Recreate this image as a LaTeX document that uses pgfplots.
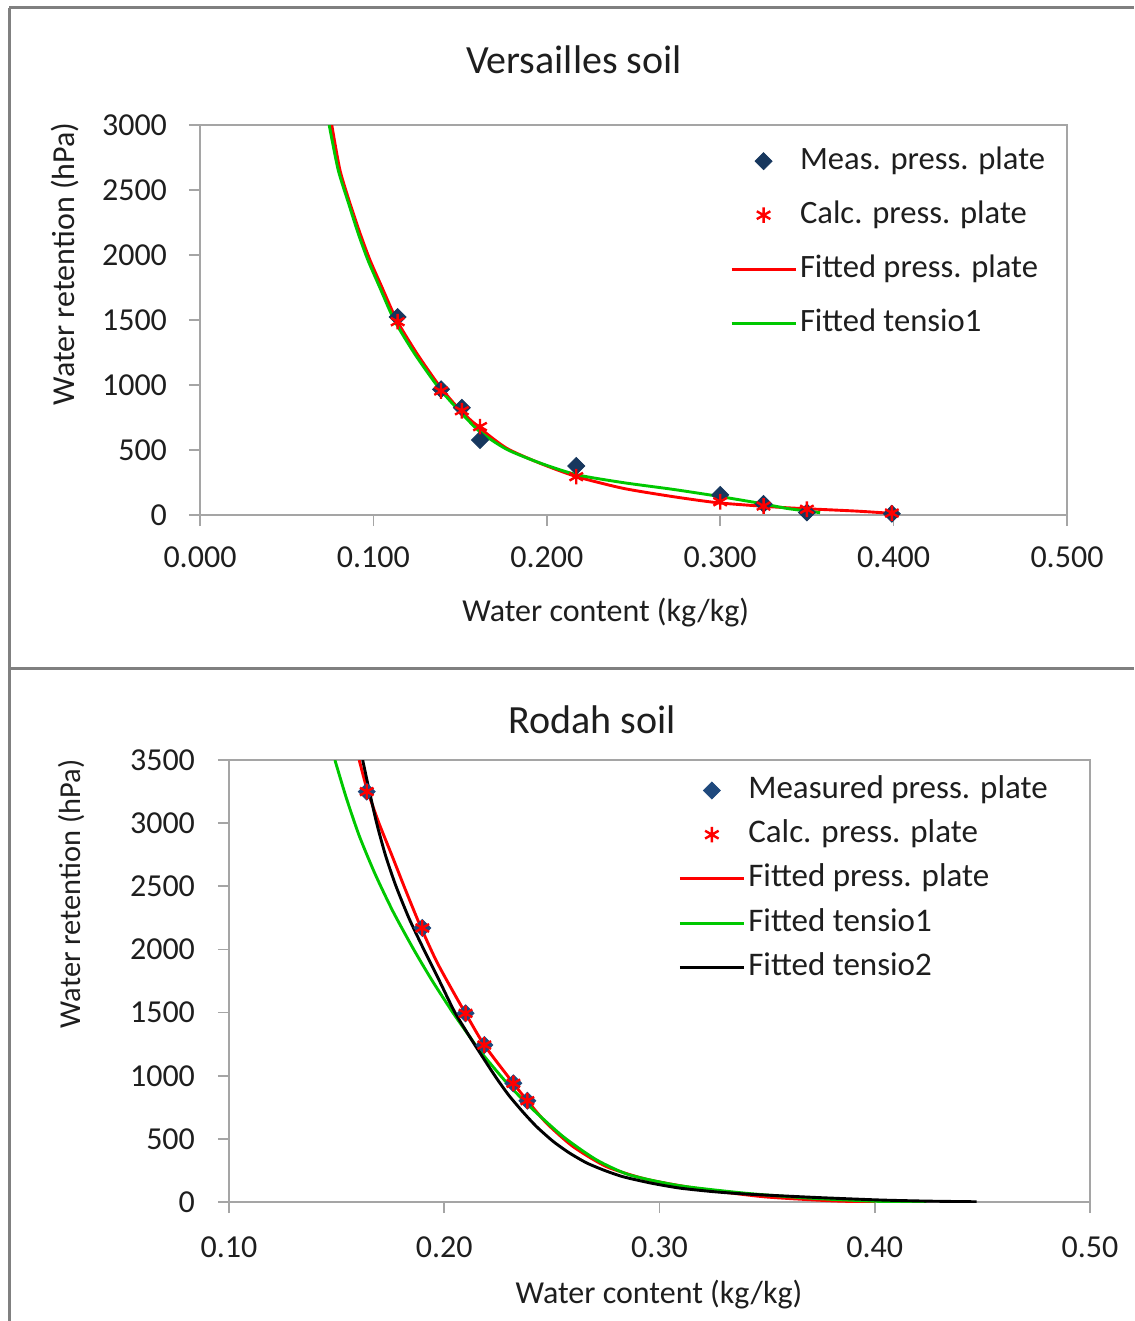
\documentclass[border=0pt]{standalone}
\usepackage{fontspec}
\setmainfont{Carlito}
\usepackage{pgfplots}
\pgfplotsset{compat=1.18}
\definecolor{navyA}{RGB}{23,55,94}
\definecolor{navyB}{RGB}{31,73,125}
\definecolor{fitgreen}{RGB}{0,200,0}
\definecolor{framegray}{RGB}{128,128,128}
\definecolor{axgray}{RGB}{165,165,165}
\definecolor{txt}{RGB}{30,30,30}
\pgfplotsset{
  legline/.style={legend image code/.code={\draw[##1] (0pt,0pt) -- (32pt,0pt);}},
  legmark/.style={legend image code/.code={\path[draw=none,fill=none] (0pt,-0.1pt) rectangle (32pt,0.1pt); \draw[##1] plot coordinates {(16pt,0pt)};}},
  fit/.style={line width=1.45pt, smooth, tension=0.4},
  soil/.style={
    scale only axis, anchor=south west,
    axis line style={axgray, line width=0.8pt},
    tick align=outside, major tick length=5.5pt,
    tick style={axgray, line width=0.8pt},
    tick pos=left,
    /pgf/number format/assume math mode=true,
    /pgf/number format/1000 sep={},
    tick label style={font=\fontsize{16}{19}\selectfont, text=txt},
    label style={font=\fontsize{16}{19}\selectfont, text=txt},
    legend style={draw=none, fill=none, inner sep=0pt,
      text=txt,
      nodes={text height=12pt, text depth=4pt, inner sep=1.5pt}},
    legend cell align=left, legline,
  }
}
\begin{document}
\begin{tikzpicture}
\useasboundingbox (0,0) rectangle (567pt,-660.5pt);
\draw[framegray, line width=1.5pt] (4.5pt,-4pt) -- (567pt,-4pt);
\draw[framegray, line width=1.5pt] (4.5pt,-4pt) -- (4.5pt,-660.5pt);
\draw[framegray, line width=1.5pt] (4.5pt,-334pt) -- (567pt,-334pt);
\node[font=\fontsize{20}{24}\selectfont, text=txt] at (287pt,-30pt) {Versailles soil};
\node[font=\fontsize{20}{24}\selectfont, text=txt] at (296pt,-360pt) {Rodah soil};

\begin{axis}[soil, at={(100pt,-257.5pt)}, width=433.5pt, height=195pt,
  xmin=0, xmax=0.5, ymin=0, ymax=3000,
  xtick={0,0.1,0.2,0.3,0.4,0.5}, ytick={0,500,1000,1500,2000,2500,3000},
  xticklabel style={/pgf/number format/.cd, fixed, fixed zerofill, precision=3},
  xticklabel shift=7pt, yticklabel shift=7.5pt,
  xlabel={Water content (kg/kg)},
  xlabel style={at={(axis description cs:0.468,-0.249)}, anchor=center},
  ylabel={Water retention (hPa)},
  ylabel style={at={(axis description cs:-0.156,0.644)}, anchor=center},
  legend style={at={(axis description cs:0.611,0.957)}, anchor=north west, row sep=8pt,
    font=\fontsize{16.3}{19}\selectfont},
]
\addplot[only marks, mark=square*, mark size=3pt, mark options={rotate=45, draw=navyA, fill=navyA}, legmark]
coordinates {(0.114,1523) (0.139,967) (0.151,825) (0.1615,577) (0.217,377) (0.300,154) (0.325,85) (0.350,20) (0.399,10)};
\addlegendentry{Meas. press. plate}
\addplot[only marks, mark=asterisk, mark size=3.9pt, red, mark options={line width=1.2pt}, legmark]
coordinates {(0.114,1487) (0.139,954) (0.151,802) (0.1615,680) (0.217,295) (0.300,102) (0.325,69) (0.350,44) (0.399,15)};
\addlegendentry{Calc. press. plate}
\addplot[red, fit]
coordinates {(0.0760,3000) (0.0807,2654) (0.0865,2397) (0.0923,2167) (0.0980,1962) (0.1048,1756) (0.1134,1500) (0.1250,1244) (0.1384,987) (0.1499,808) (0.1615,667) (0.1769,513) (0.1961,398) (0.2172,295) (0.2441,205) (0.2729,141) (0.2980,95) (0.3230,69) (0.3383,56) (0.3499,48) (0.3787,30) (0.3998,12)};
\addlegendentry{Fitted press. plate}
\addplot[fitgreen, fit]
coordinates {(0.0745,3000) (0.0797,2654) (0.0857,2397) (0.0912,2167) (0.0968,1962) (0.1035,1756) (0.1120,1500) (0.1236,1244) (0.1372,987) (0.1490,808) (0.1615,640) (0.1769,505) (0.1961,400) (0.2172,310) (0.2441,249) (0.2729,197) (0.2980,146) (0.3230,90) (0.3383,51) (0.3499,31) (0.3576,18)};
\addlegendentry{Fitted tensio1}
\end{axis}

\begin{axis}[soil, at={(114.5pt,-601pt)}, width=430.5pt, height=221pt,
  xmin=0.1, xmax=0.5, ymin=0, ymax=3500,
  xtick={0.1,0.2,0.3,0.4,0.5}, ytick={0,500,1000,1500,2000,2500,3000,3500},
  xticklabel style={/pgf/number format/.cd, fixed, fixed zerofill, precision=2},
  xticklabel shift=8.5pt, yticklabel shift=8pt,
  xlabel={Water content (kg/kg)},
  xlabel style={at={(axis description cs:0.4994,-0.21)}, anchor=center},
  ylabel={Water retention (hPa)},
  ylabel style={at={(axis description cs:-0.183,0.697)}, anchor=center, font=\fontsize{15.2}{18}\selectfont},
  legend style={at={(axis description cs:0.5215,0.975)}, anchor=north west, row sep=3.1pt,
    font=\fontsize{16.5}{19}\selectfont},
]
\addplot[only marks, mark=square*, mark size=3pt, mark options={rotate=45, draw=navyB, fill=navyB}, legmark]
coordinates {(0.1640,3250) (0.1898,2170) (0.2099,1494) (0.2186,1243) (0.2321,940) (0.2386,802)};
\addlegendentry{Measured press. plate}
\addplot[only marks, mark=asterisk, mark size=3.9pt, red, mark options={line width=1.2pt}, legmark]
coordinates {(0.1640,3250) (0.1898,2170) (0.2099,1494) (0.2186,1243) (0.2321,940) (0.2386,802)};
\addlegendentry{Calc. press. plate}
\addplot[red, fit]
coordinates {(0.1605,3500) (0.1640,3276) (0.1694,3012) (0.1756,2748) (0.1817,2484) (0.1887,2193) (0.1965,1903) (0.2050,1639) (0.2099,1494) (0.2186,1243) (0.2321,940) (0.2390,794) (0.2476,623) (0.2599,438) (0.2754,280) (0.2940,180) (0.3172,108) (0.3482,42) (0.3791,10) (0.400,0)};
\addlegendentry{Fitted press. plate}
\addplot[fitgreen, fit]
coordinates {(0.1492,3500) (0.1545,3200) (0.1605,2900) (0.1678,2600) (0.1762,2300) (0.1858,2000) (0.1945,1750) (0.2040,1500) (0.2122,1300) (0.2166,1195) (0.2290,945) (0.2398,755) (0.2553,517) (0.2708,333) (0.2862,214) (0.3095,129) (0.3404,69) (0.3714,29) (0.4024,5) (0.424,0)};
\addlegendentry{Fitted tensio1}
\addplot[black, fit]
coordinates {(0.1621,3500) (0.1650,3270) (0.1686,3000) (0.1728,2740) (0.1776,2500) (0.1838,2240) (0.1905,2000) (0.1978,1750) (0.2050,1500) (0.2140,1250) (0.2235,1000) (0.2300,845) (0.2367,710) (0.2430,595) (0.2506,480) (0.2580,390) (0.2661,310) (0.2745,250) (0.2831,200) (0.2960,150) (0.3095,110) (0.3250,82) (0.3404,63) (0.3714,37) (0.4024,16) (0.4250,7) (0.4473,2)};
\addlegendentry{Fitted tensio2}
\end{axis}
\end{tikzpicture}
\end{document}
